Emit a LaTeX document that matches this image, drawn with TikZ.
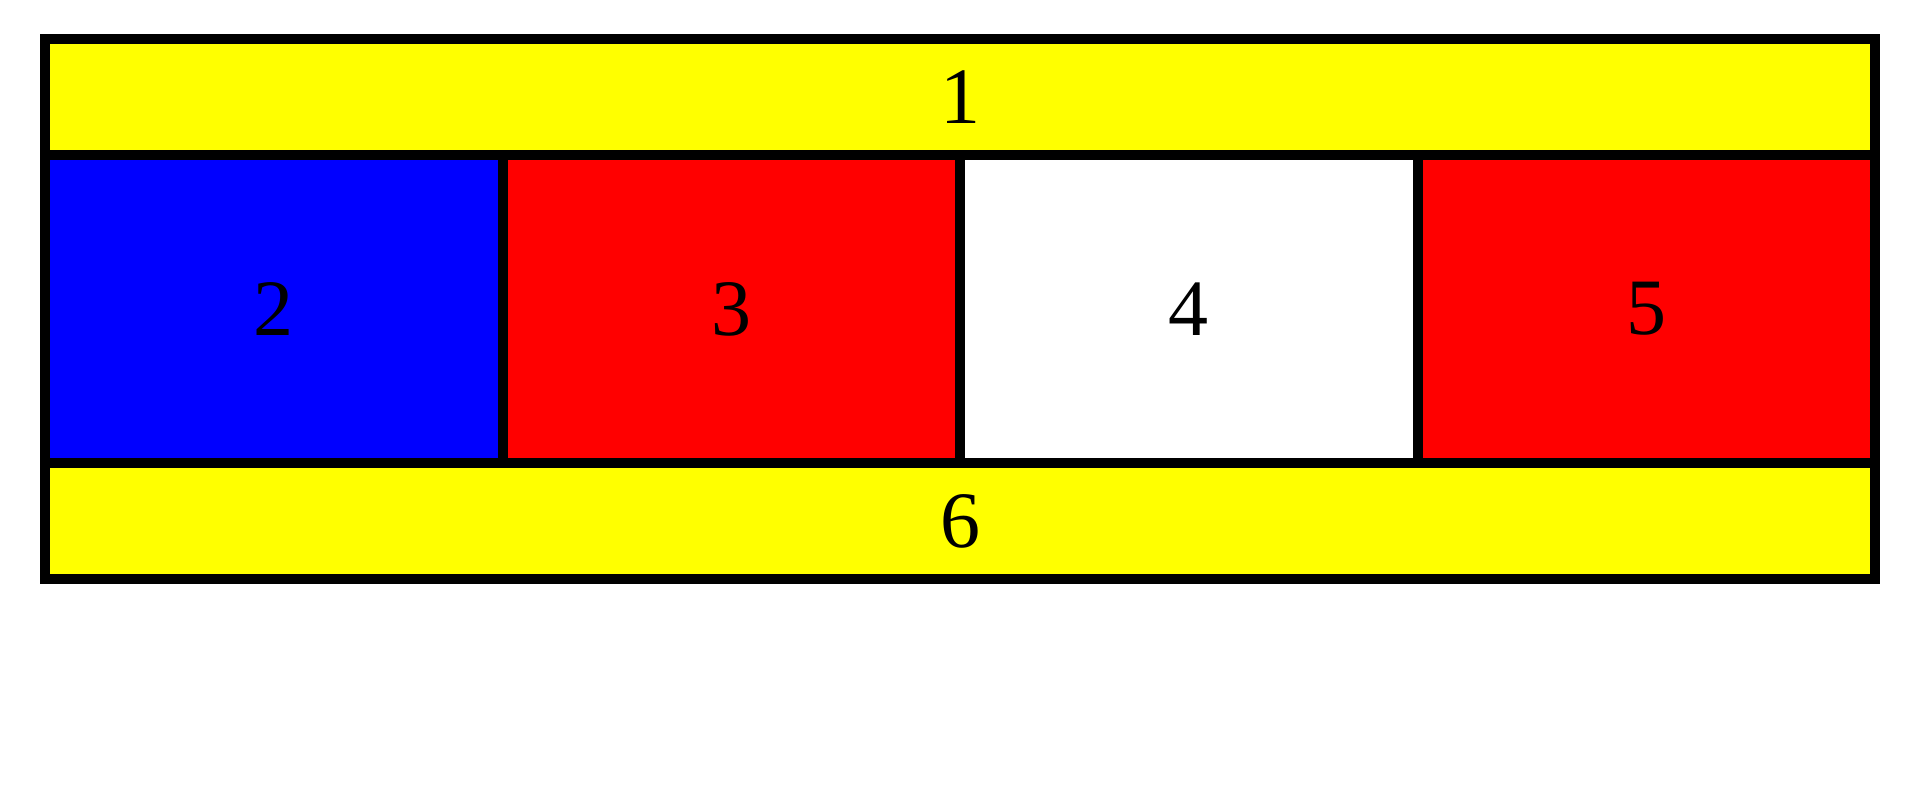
\documentclass[tikz,border=0pt]{standalone}
\usepackage{fontspec}
\setmainfont{Liberation Serif}
\definecolor{bandyellow}{RGB}{255,255,0}
\definecolor{cellblue}{RGB}{0,0,255}
\definecolor{cellred}{RGB}{255,0,0}
\begin{document}
\begin{tikzpicture}[x=1pt, y=-1pt,
  band/.style={draw, line width=10pt, fill=bandyellow, inner sep=0pt, minimum width=1830pt, minimum height=116pt, font=\fontsize{80}{80}\selectfont},
  cell/.style={draw, line width=10pt, inner sep=0pt, minimum width=457.5pt, minimum height=308pt, font=\fontsize{80}{80}\selectfont}
]
\useasboundingbox (0,0) rectangle (1915,796);
\node[band] (one) at (960,97) {1};
\node[cell, fill=cellblue] (two) at (273.75,309) {2};
\node[cell, fill=cellred] (three) at (731.25,309) {3};
\node[cell, fill=white] (four) at (1188.75,309) {4};
\node[cell, fill=cellred] (five) at (1646.25,309) {5};
\node[band] (six) at (960,521) {6};
\end{tikzpicture}
\end{document}
